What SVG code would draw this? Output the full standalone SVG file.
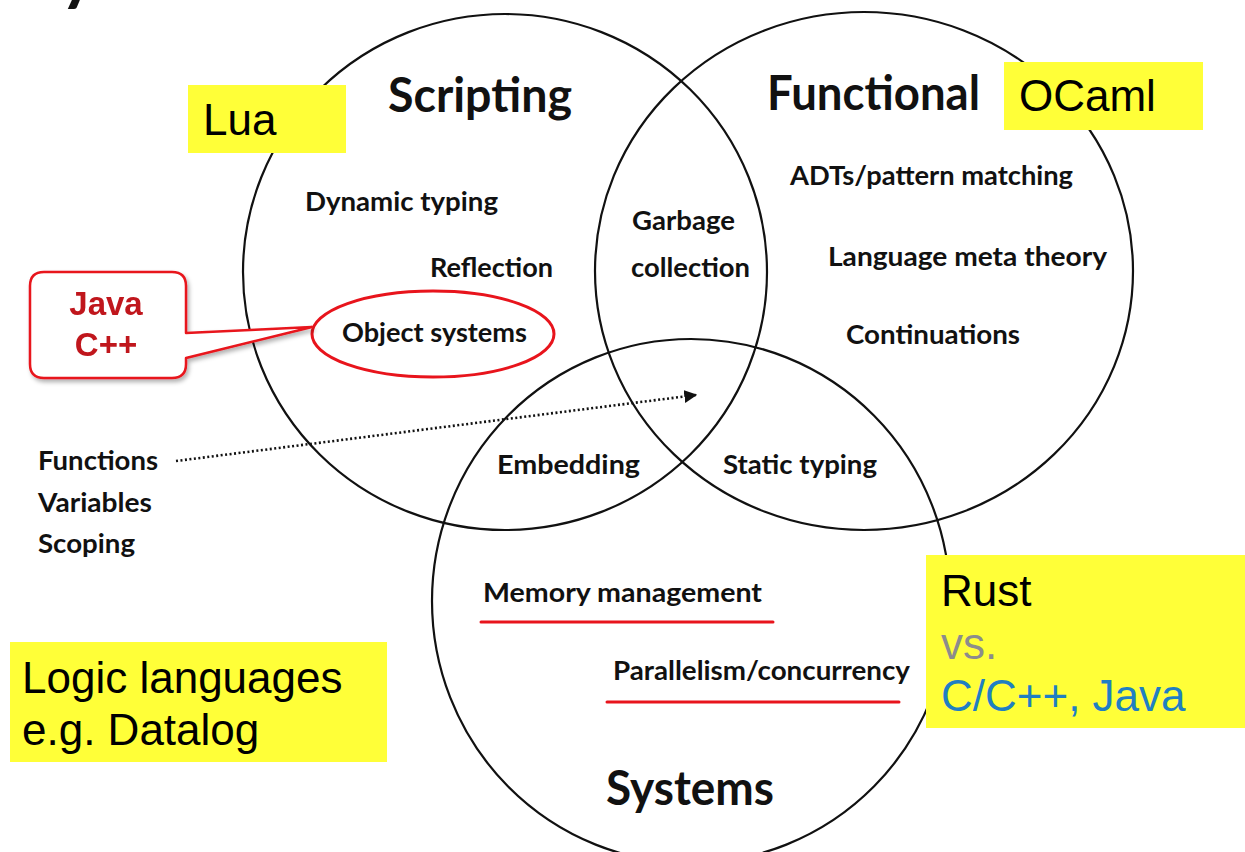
<svg xmlns="http://www.w3.org/2000/svg" width="1245" height="852" viewBox="0 0 1245 852">
  <defs>
    <style>
      .ring { fill: none; stroke: #111; stroke-width: 2.2; }
      .title { font-family: Lato, "Open Sans", sans-serif; font-weight: 700; font-size: 48px; fill: #111; }
      .item { font-family: Lato, "Open Sans", sans-serif; font-weight: 700; font-size: 27px; fill: #111; }
      .note { font-family: "Liberation Sans", Arial, sans-serif; font-size: 44px; fill: #000; }
      .note.grey { fill: #8c8c8c; }
      .note.blue { fill: #1f7fc2; }
      .hl { fill: #ffff38; }
      .under { stroke: #e8141c; stroke-width: 3; stroke-linecap: round; }
      .redtxt { font-family: "Liberation Sans", Arial, sans-serif; font-weight: 700; font-size: 33px; fill: #c0171e; text-anchor: middle; }
    </style>
    <marker id="arrow" viewBox="0 0 10 10" refX="9" refY="5" markerWidth="5" markerHeight="5" orient="auto">
      <path d="M0 0 L10 5 L0 10 Z" fill="#111"/>
    </marker>
    <filter id="shadow" x="-20%" y="-20%" width="140%" height="140%">
      <feDropShadow dx="2" dy="3" stdDeviation="2" flood-color="#000" flood-opacity="0.3"/>
    </filter>
  </defs>

  <rect width="1245" height="852" fill="#fff"/>

  <!-- tail of a heading cut off at the top edge -->
  <text x="60" y="-3" class="title" style="font-size:68px">y</text>

  <!-- the three language-family circles -->
  <g id="circle-scripting">
    <ellipse class="ring" cx="505" cy="272" rx="262" ry="258"/>
    <text class="title" x="388" y="112" textLength="184" lengthAdjust="spacingAndGlyphs">Scripting</text>
  </g>
  <g id="circle-functional">
    <ellipse class="ring" cx="864" cy="271" rx="269" ry="259"/>
    <text class="title" x="767" y="110" textLength="213" lengthAdjust="spacingAndGlyphs">Functional</text>
  </g>
  <g id="circle-systems">
    <ellipse class="ring" cx="691" cy="601" rx="259" ry="262"/>
    <text class="title" x="606" y="805" textLength="168" lengthAdjust="spacingAndGlyphs">Systems</text>
  </g>

  <!-- feature labels -->
  <g id="scripting-features">
    <text class="item" x="305" y="211" textLength="193" lengthAdjust="spacingAndGlyphs">Dynamic typing</text>
    <text class="item" x="430" y="277" textLength="123" lengthAdjust="spacingAndGlyphs">Reflection</text>
  </g>
  <g id="object-systems">
    <ellipse cx="433" cy="334" rx="121" ry="43" fill="none" stroke="#e8141c" stroke-width="3"/>
    <text class="item" x="342" y="342" textLength="185" lengthAdjust="spacingAndGlyphs">Object systems</text>
  </g>
  <g id="garbage-collection">
    <text class="item" x="632" y="230" textLength="103" lengthAdjust="spacingAndGlyphs">Garbage</text>
    <text class="item" x="631" y="277" textLength="119" lengthAdjust="spacingAndGlyphs">collection</text>
  </g>
  <g id="functional-features">
    <text class="item" x="790" y="185" textLength="283" lengthAdjust="spacingAndGlyphs">ADTs/pattern matching</text>
    <text class="item" x="828" y="266" textLength="279" lengthAdjust="spacingAndGlyphs">Language meta theory</text>
    <text class="item" x="846" y="344" textLength="174" lengthAdjust="spacingAndGlyphs">Continuations</text>
  </g>
  <g id="overlap-features">
    <text class="item" x="497" y="474" textLength="143" lengthAdjust="spacingAndGlyphs">Embedding</text>
    <text class="item" x="723" y="474" textLength="154" lengthAdjust="spacingAndGlyphs">Static typing</text>
  </g>
  <g id="systems-features">
    <text class="item" x="483" y="602" textLength="279" lengthAdjust="spacingAndGlyphs">Memory management</text>
    <line class="under" x1="481" y1="622" x2="773" y2="622"/>
    <text class="item" x="613" y="680" textLength="297" lengthAdjust="spacingAndGlyphs">Parallelism/concurrency</text>
    <line class="under" x1="607" y1="702" x2="899" y2="702"/>
  </g>
  <g id="basics">
    <text class="item" x="38" y="470" textLength="120" lengthAdjust="spacingAndGlyphs">Functions</text>
    <text class="item" x="38" y="512" textLength="114" lengthAdjust="spacingAndGlyphs">Variables</text>
    <text class="item" x="38" y="553" textLength="97" lengthAdjust="spacingAndGlyphs">Scoping</text>
  </g>

  <!-- Java / C++ callout -->
  <g id="callout-java" filter="url(#shadow)">
    <path d="M44 272 H172 Q186 272 186 286 V333 L312 327 L186 358 V364 Q186 378 172 378 H44 Q30 378 30 364 V286 Q30 272 44 272 Z" fill="#fff" stroke="#e8141c" stroke-width="2.5" stroke-linejoin="round"/>
    <text class="redtxt" x="106" y="315">Java</text>
    <text class="redtxt" x="106" y="356">C++</text>
  </g>

  <!-- highlighted language notes -->
  <g id="note-lua">
    <rect class="hl" x="188" y="85" width="158" height="68"/>
    <text class="note" x="203" y="135">Lua</text>
  </g>
  <g id="note-ocaml">
    <rect class="hl" x="1004" y="62" width="199" height="68"/>
    <text class="note" x="1019" y="111">OCaml</text>
  </g>
  <g id="note-rust">
    <rect class="hl" x="926" y="555" width="319" height="173"/>
    <text class="note" x="941" y="606">Rust</text>
    <text class="note grey" x="941" y="659">vs.</text>
    <text class="note blue" x="941" y="711">C/C++, Java</text>
  </g>
  <g id="note-logic">
    <rect class="hl" x="10" y="642" width="377" height="120"/>
    <text class="note" x="22" y="693">Logic languages</text>
    <text class="note" x="22" y="745">e.g. Datalog</text>
  </g>

  <!-- connectors -->
  <g id="connectors">
    <line x1="176" y1="461" x2="696" y2="395" stroke="#111" stroke-width="2.6" stroke-dasharray="2 2.5" marker-end="url(#arrow)"/>
  </g>
</svg>
